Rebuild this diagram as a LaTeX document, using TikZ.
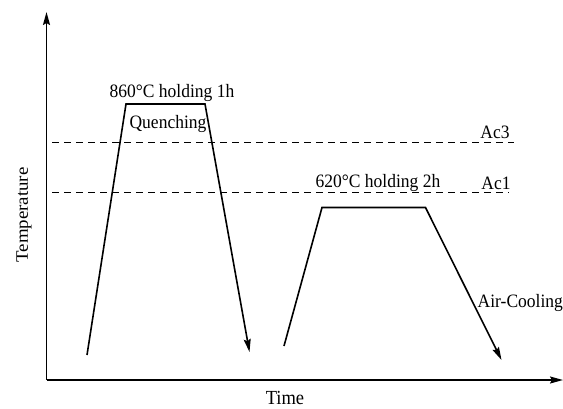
\documentclass[tikz,border=0pt]{standalone}
\usepackage{fontspec}
\setmainfont{Liberation Serif}
\usetikzlibrary{arrows.meta}
\tikzset{
  axisline/.style={line width=1.8pt, -{Stealth[length=13pt,width=7pt,inset=2pt]}},
  curve/.style={line width=1.6pt, line join=miter},
  curvearrow/.style={curve, -{Stealth[length=13pt,width=7pt,inset=2pt]}},
  levelline/.style={line width=0.7pt, dash pattern=on 7pt off 5pt},
  lbl/.style={inner sep=0pt, font=\fontsize{17.5}{20}\selectfont, yscale=1.08}
}
\begin{document}
\begin{tikzpicture}[x=1pt,y=-1pt]
\useasboundingbox (0,0) rectangle (563,408);
% axes
\coordinate (O) at (46.5,380);
\coordinate (Ytop) at (46.5,12);
\coordinate (Xend) at (563,380);
\draw[axisline] (O) -- (Ytop);
\draw[axisline] (O) -- (Xend);
% critical levels
\coordinate (ac3a) at (52,142);
\coordinate (ac3b) at (514,142);
\coordinate (ac1a) at (52,192.5);
\coordinate (ac1b) at (509,192.5);
\draw[levelline] (ac3a) -- (ac3b);
\draw[levelline] (ac1a) -- (ac1b);
% quenching cycle
\coordinate (q0) at (87,355);
\coordinate (q1) at (126,104);
\coordinate (q2) at (205,104);
\coordinate (q3) at (249.5,352);
\draw[curvearrow] (q0) -- (q1) -- (q2) -- (q3);
% tempering cycle
\coordinate (t0) at (284,346);
\coordinate (t1) at (322,207.5);
\coordinate (t2) at (425.5,207.5);
\coordinate (t3) at (501.5,360);
\draw[curvearrow] (t0) -- (t1) -- (t2) -- (t3);
% labels
\node[lbl] (lq) at (172,93) {860°C holding 1h};
\node[lbl] (lqu) at (168,123.5) {Quenching};
\node[lbl] (lac3) at (495,132) {Ac3};
\node[lbl] (lac1) at (496,183) {Ac1};
\node[lbl] (lt) at (378,183) {620°C holding 2h};
\node[lbl, anchor=west] (lair) at (477.5,303) {Air-Cooling};
\node[lbl, rotate=90] (ltemp) at (24,215) {Temperature};
\node[lbl, font=\fontsize{18.5}{20}\selectfont] (ltime) at (285,398) {Time};
\end{tikzpicture}
\end{document}
